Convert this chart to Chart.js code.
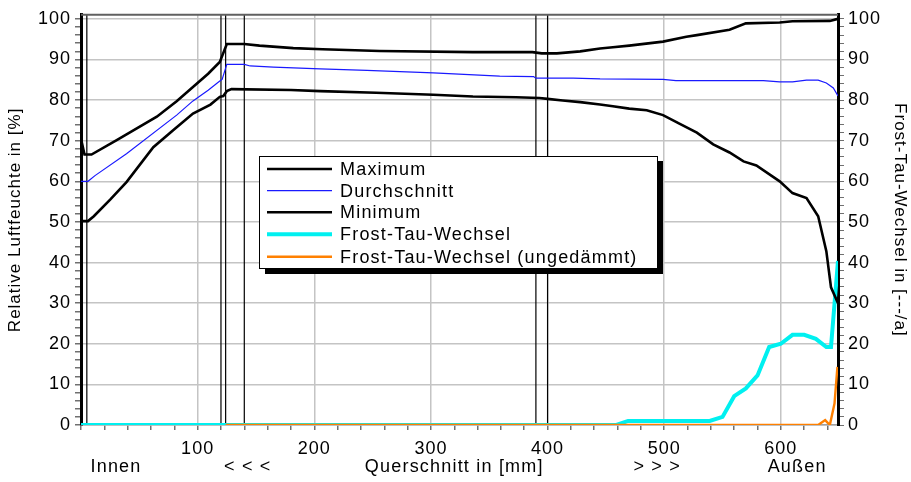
<!DOCTYPE html>
<html>
<head>
<meta charset="utf-8">
<script src="https://cdn.jsdelivr.net/npm/chart.js@4/dist/chart.umd.min.js"></script>
<style>
html,body{margin:0;padding:0;background:#fff;}
canvas{display:block;}
</style>
</head>
<body>
<canvas id="c" width="911" height="482"></canvas>
<script>
// ---- data (x in mm, y in %) ----
const maxX = [0, 3, 9, 31, 65, 82, 109, 119, 125, 140, 153, 182, 207, 256, 336, 387, 395, 408, 428, 445, 456, 470, 499, 519, 528, 556, 570, 599, 610, 642, 649];
const maxY = [70.5, 66.6, 66.6, 70.2, 75.9, 79.7, 86.5, 89.4, 93.8, 93.8, 93.4, 92.8, 92.5, 92.1, 91.8, 91.8, 91.5, 91.5, 92.0, 92.7, 93.0, 93.4, 94.4, 95.6, 96.0, 97.3, 98.9, 99.1, 99.4, 99.5, 100];

const avgX = [0, 6, 12, 39, 82, 96, 109, 119, 121, 125, 140, 145, 165, 205, 245, 302, 359, 388, 390, 422, 445, 499, 510, 585, 599, 610, 622, 632, 639, 645, 649];
const avgY = [60, 60, 61.4, 66.8, 76.3, 79.8, 82.4, 84.7, 85.1, 88.8, 88.8, 88.4, 88.1, 87.7, 87.3, 86.7, 85.9, 85.8, 85.4, 85.4, 85.2, 85.1, 84.8, 84.8, 84.5, 84.5, 84.9, 84.9, 84.2, 83.0, 81.0];

const minX = [0, 6, 11, 25, 39, 62, 79, 96, 111, 119, 122, 125, 129, 180, 205, 253, 302, 336, 373, 393, 400, 413, 428, 445, 456, 470, 485, 499, 513, 528, 542, 556, 568, 579, 599, 610, 622, 632, 639, 643, 649];
const minY = [50.2, 50.2, 51.4, 55.5, 59.8, 68.4, 72.6, 76.7, 78.9, 80.8, 81.0, 82.2, 82.7, 82.5, 82.2, 81.8, 81.3, 80.9, 80.7, 80.5, 80.3, 79.9, 79.5, 78.9, 78.5, 77.9, 77.5, 76.3, 74.2, 72.0, 69.1, 67.1, 64.9, 63.9, 60.0, 57.1, 55.9, 51.4, 42.8, 33.9, 30.0];

// Frost-Tau-Wechsel in [---/a]
const ftwX = [0, 459, 469, 539, 550, 560, 570, 580, 590, 600, 610, 620, 630, 639, 643, 649];
const ftwY = [0, 0, 1, 1, 2, 7.1, 9, 12.2, 19.2, 20, 22.2, 22.2, 21.2, 19.2, 19.2, 40.4];

const ftwUX = [124, 632, 638, 642, 646, 648.5];
const ftwUY = [0, 0, 1.2, 0, 5.3, 14.3];

// layer boundaries (mm)
const sectionLines = [5, 120, 124, 140, 390, 400];

const seriesNames = ['Maximum', 'Durchschnitt', 'Minimum', 'Frost-Tau-Wechsel', 'Frost-Tau-Wechsel (ungedämmt)'];
const yTickLabels = [0, 10, 20, 30, 40, 50, 60, 70, 80, 90, 100];
const xTickLabels = [100, 200, 300, 400, 500, 600];
const xRowLabels = ['Innen', '< < <', 'Querschnitt in [mm]', '> > >', 'Außen'];
const xRowAt = [30, 143, 320, 494, 614];

const pts = (xs, ys) => xs.map((x, i) => ({x: x, y: ys[i]}));

const FONT = '"Liberation Sans", Arial, sans-serif';

const seriesStyle = [
  {color: '#000000', width: 2.6, order: 1, axis: 'y'},
  {color: '#1a1aff', width: 1.2, order: 2, axis: 'y'},
  {color: '#000000', width: 2.6, order: 1, axis: 'y'},
  {color: '#00f0f0', width: 4, order: 4, axis: 'y2'},
  {color: '#ff8000', width: 2.4, order: 3, axis: 'y2'}
];
const seriesData = [pts(maxX, maxY), pts(avgX, avgY), pts(minX, minY), pts(ftwX, ftwY), pts(ftwUX, ftwUY)];

const datasets = seriesNames.map((n, i) => ({
  label: n,
  data: seriesData[i],
  borderColor: seriesStyle[i].color,
  borderWidth: seriesStyle[i].width,
  order: seriesStyle[i].order,
  yAxisID: seriesStyle[i].axis,
  pointRadius: 0,
  tension: 0,
  fill: false
}));
sectionLines.forEach(v => datasets.push({
  label: '',
  data: [{x: v, y: 0}, {x: v, y: 101}],
  borderColor: '#000000',
  borderWidth: 1.2,
  order: 6,
  yAxisID: 'y',
  pointRadius: 0
}));

const deco = {
  id: 'deco',
  beforeDraw(chart) { chart.ctx.letterSpacing = '1px'; },
  afterDraw(chart) {
    const {ctx, chartArea: a, scales} = chart;
    ctx.save();
    ctx.strokeStyle = '#606060';
    ctx.lineWidth = 2;
    ctx.beginPath(); ctx.moveTo(a.left, a.top); ctx.lineTo(a.right, a.top); ctx.stroke();

    ctx.fillStyle = '#000';
    ctx.font = '18px ' + FONT;
    ctx.letterSpacing = '1.2px';
    ctx.textAlign = 'center';
    ctx.textBaseline = 'middle';
    xRowLabels.forEach((t, i) => ctx.fillText(t, scales.x.getPixelForValue(xRowAt[i]), 467));

    // legend box
    const L = 259, T = 156, R = 657, B = 268;
    ctx.fillStyle = '#000';
    ctx.fillRect(R, T + 5, 6, B - T + 1);
    ctx.fillRect(L + 6, B, R - L, 6);
    ctx.fillStyle = '#fff';
    ctx.fillRect(L, T, R - L, B - T);
    ctx.strokeStyle = '#000'; ctx.lineWidth = 1;
    ctx.strokeRect(L + 0.5, T + 0.5, R - L, B - T);
    ctx.textAlign = 'left';
    const rowY = [169, 190.7, 212.3, 234.3, 256.7];
    seriesNames.forEach((n, i) => {
      ctx.strokeStyle = seriesStyle[i].color;
      ctx.lineWidth = seriesStyle[i].width;
      ctx.beginPath(); ctx.moveTo(267, rowY[i]); ctx.lineTo(332, rowY[i]); ctx.stroke();
      ctx.fillStyle = '#000';
      ctx.fillText(n, 340, rowY[i] + 1);
    });
    ctx.restore();
  }
};

const gridGray = '#c4c4c4';
const tickGray = '#707070';

new Chart(document.getElementById('c'), {
  type: 'line',
  data: {datasets: datasets},
  plugins: [deco],
  options: {
    responsive: false,
    animation: false,
    devicePixelRatio: 1,
    layout: {padding: {top: 12, left: 0, right: 0, bottom: 0}},
    plugins: {legend: {display: false}, tooltip: {enabled: false}},
    scales: {
      x: {
        type: 'linear', min: 0, max: 649,
        afterFit: s => { s.height = 57; },
        border: {color: '#a0a0a0', width: 1.5},
        grid: {
          color: c => (c.tick && xTickLabels.includes(c.tick.value)) ? gridGray : 'rgba(0,0,0,0)',
          lineWidth: 1.5, tickLength: 5, tickColor: tickGray
        },
        ticks: {
          stepSize: 20, includeBounds: false, autoSkip: false, maxRotation: 0,
          color: '#000', padding: 8, font: {family: FONT, size: 18},
          callback: v => xTickLabels.includes(v) ? String(v) : ''
        }
      },
      y: {
        type: 'linear', position: 'left', min: 0, max: 101,
        afterFit: s => { s.width = 81; },
        border: {color: '#000', width: 3},
        grid: {
          color: c => (c.tick && yTickLabels.includes(c.tick.value)) ? gridGray : 'rgba(0,0,0,0)',
          lineWidth: 1.5, tickLength: 6, tickColor: tickGray
        },
        ticks: {
          stepSize: 2, includeBounds: false, autoSkip: false,
          color: '#000', padding: 4, font: {family: FONT, size: 18},
          callback: v => yTickLabels.includes(v) ? String(v) : ''
        },
        title: {display: true, text: 'Relative Luftfeuchte in [%]', color: '#000',
          font: {family: FONT, size: 17}, padding: {top: 5, bottom: 0}}
      },
      y2: {
        type: 'linear', position: 'right', min: 0, max: 101,
        afterFit: s => { s.width = 73; },
        border: {color: '#000', width: 3},
        grid: {drawOnChartArea: false, tickLength: 6, tickColor: tickGray},
        ticks: {
          stepSize: 2, includeBounds: false, autoSkip: false,
          color: '#000', padding: 4, font: {family: FONT, size: 18},
          callback: v => yTickLabels.includes(v) ? String(v) : ''
        },
        title: {display: true, text: 'Frost-Tau-Wechsel in [---/a]', color: '#000',
          font: {family: FONT, size: 17}, padding: {top: 1, bottom: 0}}
      }
    }
  }
});
</script>
</body>
</html>
